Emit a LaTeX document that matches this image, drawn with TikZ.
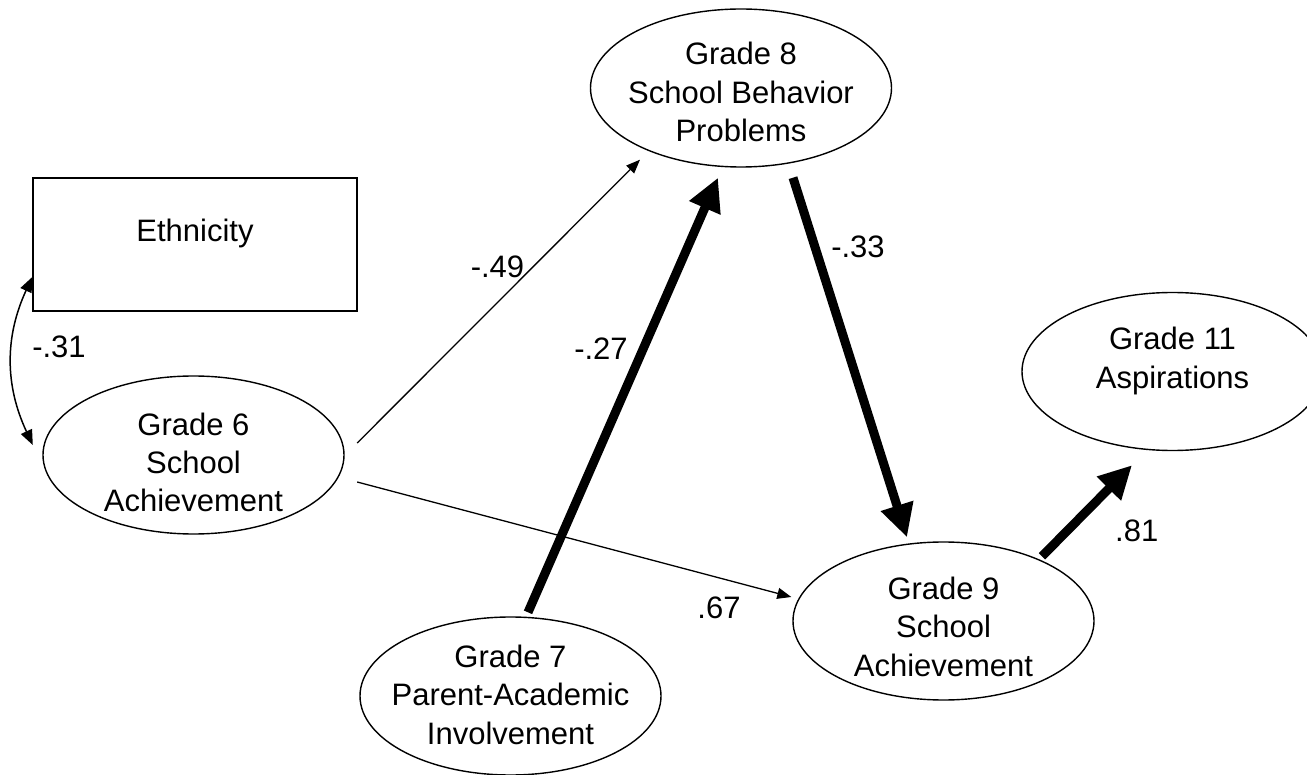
\documentclass[tikz,border=0pt]{standalone}
\usepackage{fontspec}
\setmainfont{Liberation Sans}
\usetikzlibrary{shapes.geometric,arrows.meta}
\newcommand\mltext[2]{\makebox[0pt]{\raisebox{#1}{\begin{tabular}[t]{@{}c@{}}#2\end{tabular}}}}
\begin{document}
\begin{tikzpicture}[x=1pt,y=-1pt,
  every node/.style={font=\fontsize{31}{38.5}\selectfont},
  latent/.style={draw, ellipse, line width=1.4pt, minimum width=301pt, minimum height=158pt,
    inner sep=0pt, text height=0pt, text depth=0pt},
  observed/.style={draw, rectangle, line width=1.4pt, minimum width=324pt, minimum height=133pt,
    inner sep=0pt, text height=0pt, text depth=0pt},
  thinpath/.style={line width=1.3pt, -{Triangle[length=14pt,width=11pt]}},
  thickpath/.style={line width=9pt, -{Triangle[length=33pt,width=32pt]}},
  dblpath/.style={line width=1.5pt, {Triangle[length=15pt,width=12pt]}-{Triangle[length=15pt,width=12pt]}},
  coef/.style={inner sep=0pt}]
\useasboundingbox (0,0) rectangle (1307,775);

\node[observed] (eth) at (195,244.5) {\raisebox{2.5pt}{Ethnicity}};
\node[latent] (g8) at (741,88) {\mltext{23pt}{Grade 8\\School Behavior\\Problems}};
\node[latent] (g6) at (193.5,455) {\mltext{20pt}{Grade 6\\School\\Achievement}};
\node[latent] (g11) at (1172.5,371.5) {\mltext{21.5pt}{Grade 11\\Aspirations}};
\node[latent] (g9) at (943.5,621) {\mltext{22pt}{Grade 9\\School\\Achievement}};
\node[latent] (g7) at (510.5,696) {\mltext{29pt}{Grade 7\\Parent-Academic\\Involvement}};

\draw[dblpath] ([yshift=-32.5pt]eth.west) to[bend right=25] ([shift={(-9.5pt,10pt)}]g6.west);
\draw[thinpath] ([shift={(12.5pt,12pt)}]g6.east) -- ([shift={(-101pt,8pt)}]g8.south);
\draw[thinpath] ([shift={(12.5pt,-27pt)}]g6.east) -- ([shift={(-1pt,24pt)}]g9.west);
\draw[thickpath] ([shift={(17.5pt,4pt)}]g7.north) -- ([shift={(-23pt,-10pt)}]g8.south);
\draw[thickpath] ([shift={(52pt,-10pt)}]g8.south) -- ([shift={(-36.5pt,4pt)}]g9.north);
\draw[thickpath] ([shift={(98.5pt,-15pt)}]g9.north) -- ([shift={(-40.5pt,-14pt)}]g11.south);

\node[coef] (c31) at (59,347) {-.31};
\node[coef] (c49) at (497.5,266.5) {-.49};
\node[coef] (c27) at (601,349) {-.27};
\node[coef] (c33) at (858,246.5) {-.33};
\node[coef] (c81) at (1136.7,531) {.81};
\node[coef] (c67) at (719,608) {.67};
\end{tikzpicture}
\end{document}
